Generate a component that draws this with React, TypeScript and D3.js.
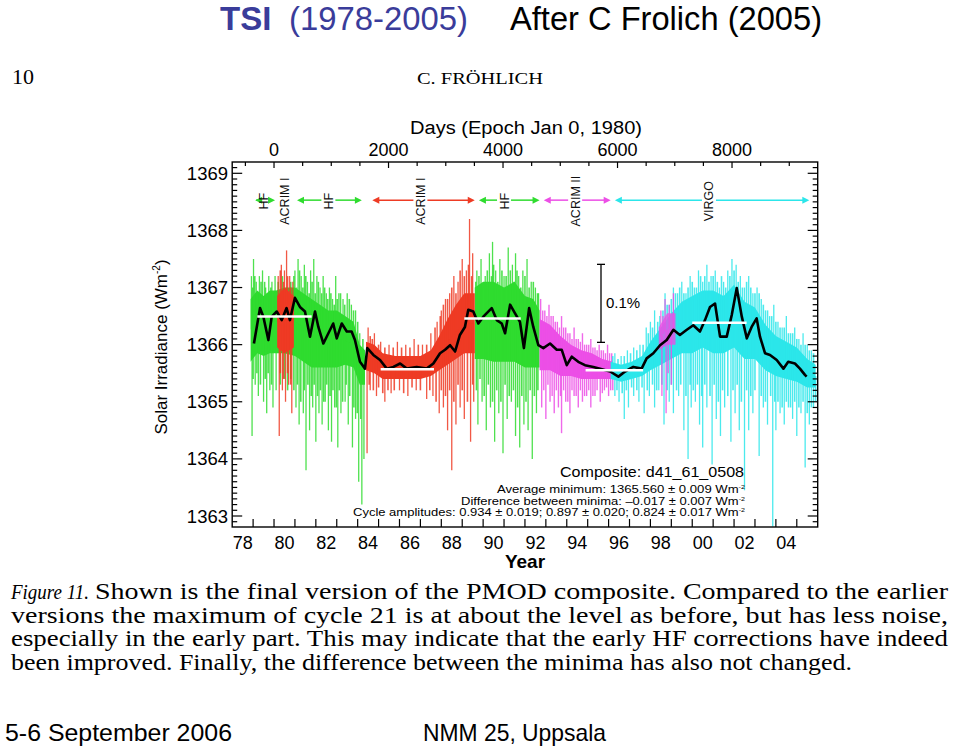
import React from "react";
import * as d3 from "d3";

type Band = [number, number, number][];
type Spike = [number, number];

const W = 959;
const H = 747;

const GREEN = "#2fdc2f";
const RED = "#ee3b24";
const MAGENTA = "#ec4fe6";
const CYAN = "#2ce6ea";

// ---- instrument daily-data envelopes: [year, low, high] ----
const hfBandA: Band = [
  [1978.88, 1365.7, 1366.8], [1979.2, 1365.85, 1366.95], [1979.5, 1365.8, 1366.85],
  [1979.8, 1365.85, 1366.95], [1980.1, 1365.85, 1366.95], [1980.5, 1365.85, 1367.0],
  [1981.0, 1365.8, 1367.0], [1981.4, 1365.7, 1366.9], [1981.8, 1365.6, 1366.8],
  [1982.2, 1365.6, 1366.7], [1982.6, 1365.6, 1366.6], [1983.0, 1365.6, 1366.6],
  [1983.4, 1365.65, 1366.5], [1983.8, 1365.6, 1366.4], [1984.1, 1365.3, 1366.0],
  [1984.35, 1365.3, 1365.9],
];
const hfBandB: Band = [
  [1989.6, 1365.75, 1367.0], [1990.0, 1365.75, 1367.1], [1990.5, 1365.7, 1367.1],
  [1991.0, 1365.7, 1367.0], [1991.5, 1365.7, 1367.1], [1992.0, 1365.6, 1366.85],
  [1992.4, 1365.6, 1366.8], [1992.7, 1365.6, 1366.6],
];
const acrimIBandA: Band = [
  [1980.15, 1365.95, 1366.85], [1980.5, 1365.85, 1367.0], [1980.95, 1365.95, 1366.85],
];
const acrimIBandB: Band = [
  [1984.4, 1365.55, 1366.05], [1984.8, 1365.5, 1366.0], [1985.2, 1365.4, 1365.85],
  [1985.8, 1365.4, 1365.8], [1986.4, 1365.4, 1365.8], [1987.0, 1365.4, 1365.8],
  [1987.5, 1365.45, 1365.9], [1987.9, 1365.55, 1366.15], [1988.3, 1365.65, 1366.45],
  [1988.7, 1365.75, 1366.7], [1989.1, 1365.85, 1366.9], [1989.6, 1365.85, 1366.9],
];
const acrimIIBandA: Band = [
  [1992.7, 1365.55, 1366.45], [1993.2, 1365.55, 1366.35], [1993.7, 1365.45, 1366.15],
  [1994.2, 1365.45, 1366.0], [1994.7, 1365.4, 1365.9], [1995.2, 1365.4, 1365.85],
  [1995.7, 1365.4, 1365.75], [1996.2, 1365.4, 1365.7],
];
const acrimIIBandB: Band = [
  [1998.4, 1365.9, 1366.3], [1998.8, 1366.0, 1366.55], [1999.2, 1366.0, 1366.55],
];
const virgoBand: Band = [
  [1996.1, 1365.4, 1365.7], [1996.6, 1365.35, 1365.65], [1997.1, 1365.4, 1365.7],
  [1997.6, 1365.45, 1365.8], [1998.0, 1365.55, 1366.05], [1998.5, 1365.65, 1366.3],
  [1999.0, 1365.75, 1366.55], [1999.5, 1365.85, 1366.75], [2000.0, 1365.85, 1366.85],
  [2000.5, 1365.95, 1366.95], [2001.0, 1365.85, 1366.95], [2001.5, 1365.85, 1366.85],
  [2002.0, 1365.95, 1367.05], [2002.5, 1365.75, 1366.75], [2003.0, 1365.75, 1366.65],
  [2003.5, 1365.55, 1366.35], [2004.0, 1365.45, 1366.15], [2004.5, 1365.4, 1366.05],
  [2005.0, 1365.35, 1365.95], [2005.5, 1365.25, 1365.75], [2005.9, 1365.25, 1365.65],
];

// ---- individual excursions: [year, value] ----
const hfSpikes: Spike[] = [
  [1978.92, 1367.2], [1979.02, 1367.5], [1979.15, 1367.1], [1979.3, 1367.2], [1979.45, 1367.3],
  [1979.6, 1367.0], [1979.75, 1367.2], [1979.9, 1367.1], [1980.05, 1367.2],
  [1978.95, 1364.4], [1979.1, 1365.3], [1979.25, 1365.1], [1979.5, 1365.0], [1979.65, 1364.8],
  [1979.8, 1365.2], [1979.95, 1364.9], [1980.1, 1365.2], [1981.0, 1367.3], [1981.15, 1367.5],
  [1981.3, 1367.2], [1981.45, 1367.4], [1981.6, 1367.1], [1981.75, 1367.3], [1981.9, 1367.5],
  [1982.05, 1367.2], [1982.2, 1367.0], [1982.35, 1367.2], [1982.5, 1366.9], [1982.65, 1367.0],
  [1982.8, 1366.8], [1982.95, 1367.2], [1983.1, 1366.9], [1983.3, 1366.8], [1983.5, 1366.9],
  [1983.7, 1366.7], [1983.9, 1366.6], [1984.1, 1366.2], [1981.05, 1364.9], [1981.2, 1364.6],
  [1981.4, 1364.8], [1981.53, 1363.8], [1981.7, 1364.5], [1981.85, 1364.9], [1982.0, 1364.3],
  [1982.15, 1364.8], [1982.3, 1364.6], [1982.45, 1365.0], [1982.6, 1364.5], [1982.75, 1364.3],
  [1982.9, 1364.9], [1983.05, 1364.2], [1983.2, 1364.8], [1983.4, 1365.0], [1983.55, 1364.6],
  [1983.75, 1364.2], [1983.9, 1364.7], [1984.05, 1363.6], [1984.2, 1363.2], [1984.3, 1364.0],
  [1989.7, 1367.3], [1989.9, 1367.5], [1990.1, 1367.2], [1990.3, 1367.6], [1990.45, 1367.8],
  [1990.6, 1367.3], [1990.8, 1367.5], [1991.0, 1367.2], [1991.2, 1367.7], [1991.4, 1367.4],
  [1991.55, 1367.6], [1991.7, 1367.2], [1991.9, 1367.3], [1992.1, 1367.5], [1992.3, 1367.1],
  [1992.5, 1367.0], [1992.65, 1366.9], [1989.75, 1364.6], [1989.95, 1365.0], [1990.15, 1364.5],
  [1990.35, 1364.9], [1990.55, 1364.3], [1990.75, 1364.8], [1990.95, 1364.1], [1991.15, 1364.7],
  [1991.35, 1365.0], [1991.55, 1364.4], [1991.75, 1364.2], [1991.95, 1364.6], [1992.15, 1364.5],
  [1992.35, 1364.0], [1992.55, 1364.8],
];
const hfSpikesFine: Spike[] = [
  [1978.98, 1367.0], [1979.08, 1367.2], [1979.2, 1366.9], [1979.38, 1367.1], [1979.55, 1367.1],
  [1979.68, 1366.9], [1979.85, 1367.0], [1980.0, 1366.9], [1980.2, 1367.1], [1980.4, 1367.2],
  [1980.6, 1367.0], [1980.8, 1367.1], [1980.95, 1367.2], [1981.08, 1367.0], [1981.22, 1367.3],
  [1981.38, 1367.0], [1981.52, 1367.2], [1981.68, 1366.9], [1981.82, 1367.1], [1981.97, 1366.9],
  [1982.12, 1367.1], [1982.28, 1366.9], [1982.42, 1367.0], [1982.57, 1366.8], [1982.72, 1366.9],
  [1982.88, 1366.7], [1983.02, 1366.8], [1983.18, 1366.9], [1983.38, 1366.7], [1983.6, 1366.8],
  [1983.8, 1366.6], [1984.0, 1366.4], [1984.25, 1366.1],
  [1979.0, 1365.4], [1979.18, 1365.5], [1979.35, 1365.3], [1979.58, 1365.4], [1979.72, 1365.5],
  [1979.88, 1365.3], [1980.3, 1365.3], [1980.5, 1365.4], [1980.65, 1365.2], [1980.8, 1365.4],
  [1980.95, 1365.2], [1981.12, 1365.3], [1981.28, 1365.0], [1981.45, 1365.2], [1981.62, 1365.3],
  [1981.78, 1365.1], [1981.92, 1365.3], [1982.08, 1365.1], [1982.22, 1365.2], [1982.38, 1365.0],
  [1982.52, 1365.3], [1982.68, 1365.1], [1982.82, 1365.2], [1982.98, 1364.9], [1983.12, 1365.2],
  [1983.28, 1365.0], [1983.45, 1365.3], [1983.62, 1365.1], [1983.82, 1364.9], [1983.98, 1364.8],
  [1984.15, 1364.7],
  [1989.65, 1367.1], [1989.8, 1367.2], [1990.0, 1367.0], [1990.2, 1367.3], [1990.4, 1367.2],
  [1990.5, 1367.4], [1990.7, 1367.1], [1990.9, 1367.3], [1991.1, 1367.2], [1991.3, 1367.3],
  [1991.48, 1367.1], [1991.62, 1367.3], [1991.8, 1367.0], [1992.0, 1367.2], [1992.2, 1367.0],
  [1992.4, 1367.1], [1992.6, 1366.9],
  [1989.68, 1365.2], [1989.85, 1365.4], [1990.05, 1365.1], [1990.25, 1365.3], [1990.45, 1365.0],
  [1990.65, 1365.2], [1990.85, 1365.0], [1991.05, 1365.3], [1991.25, 1365.1], [1991.45, 1365.2],
  [1991.65, 1364.9], [1991.85, 1365.1], [1992.05, 1365.0], [1992.25, 1365.2], [1992.45, 1365.1],
  [1992.62, 1365.2],
];
const acrimISpikes: Spike[] = [
  [1980.2, 1367.2], [1980.35, 1367.4], [1980.5, 1367.3], [1980.6, 1367.65], [1980.75, 1367.2],
  [1980.9, 1367.1], [1980.25, 1364.4], [1980.4, 1365.2], [1980.55, 1365.0], [1980.7, 1365.3],
  [1980.85, 1364.8], [1984.5, 1366.3], [1984.8, 1366.2], [1985.1, 1366.05], [1985.5, 1366.0],
  [1985.9, 1366.05], [1986.3, 1366.0], [1986.7, 1366.1], [1987.1, 1366.0], [1987.5, 1366.2],
  [1987.8, 1366.4], [1988.0, 1366.6], [1988.2, 1366.8], [1988.4, 1366.9], [1988.6, 1367.2],
  [1988.8, 1367.1], [1989.0, 1367.5], [1989.2, 1367.3], [1989.35, 1368.2], [1989.5, 1367.6],
  [1984.45, 1364.1], [1984.6, 1365.2], [1984.9, 1365.1], [1985.3, 1365.0], [1985.6, 1365.15],
  [1986.0, 1365.2], [1986.4, 1365.1], [1986.8, 1365.2], [1987.3, 1365.05], [1987.6, 1365.1],
  [1987.9, 1364.8], [1988.1, 1364.9], [1988.3, 1364.5], [1988.5, 1363.8], [1988.7, 1364.6],
  [1988.9, 1364.9], [1989.1, 1364.7], [1989.4, 1364.3], [1989.55, 1365.0],
];
const acrimISpikesFine: Spike[] = [
  [1980.3, 1367.3], [1980.45, 1367.1], [1980.65, 1367.2], [1980.8, 1367.0],
  [1980.3, 1365.5], [1980.45, 1365.4], [1980.65, 1365.5], [1980.8, 1365.3],
  [1984.6, 1366.15], [1984.7, 1366.1], [1985.0, 1366.0], [1985.3, 1365.95], [1985.7, 1365.95],
  [1986.1, 1365.95], [1986.5, 1365.95], [1986.9, 1366.0], [1987.3, 1366.0], [1987.7, 1366.3],
  [1987.95, 1366.5], [1988.1, 1366.7], [1988.3, 1366.8], [1988.5, 1367.0], [1988.7, 1366.9],
  [1988.9, 1367.3], [1989.1, 1367.2], [1989.3, 1367.4], [1989.45, 1367.2],
  [1984.55, 1365.3], [1984.75, 1365.2], [1985.0, 1365.25], [1985.2, 1365.15], [1985.45, 1365.2],
  [1985.75, 1365.2], [1986.2, 1365.15], [1986.6, 1365.25], [1987.0, 1365.2], [1987.45, 1365.2],
  [1987.75, 1365.0], [1988.0, 1365.2], [1988.2, 1365.1], [1988.4, 1365.2], [1988.6, 1365.0],
  [1988.8, 1365.3], [1989.0, 1365.2], [1989.25, 1365.0], [1989.5, 1365.3],
];
const acrimIISpikes: Spike[] = [
  [1992.75, 1366.8], [1992.95, 1366.6], [1993.15, 1366.7], [1993.35, 1366.5], [1993.55, 1366.4],
  [1993.75, 1366.5], [1993.95, 1366.3], [1994.15, 1366.2], [1994.35, 1366.3], [1994.55, 1366.1],
  [1994.75, 1366.2], [1994.95, 1366.0], [1995.15, 1366.1], [1995.35, 1365.95], [1995.55, 1366.0],
  [1995.75, 1365.9], [1995.95, 1366.0], [1996.15, 1365.85], [1992.8, 1364.9], [1993.0, 1364.7],
  [1993.2, 1365.0], [1993.4, 1364.8], [1993.6, 1364.9], [1993.75, 1364.45], [1993.95, 1365.0],
  [1994.15, 1364.8], [1994.35, 1365.1], [1994.55, 1364.9], [1994.75, 1365.0], [1994.95, 1365.1],
  [1995.15, 1364.9], [1995.35, 1365.1], [1995.6, 1365.0], [1995.8, 1365.2], [1996.0, 1365.1],
  [1996.2, 1365.2],
  [1992.85, 1366.6], [1993.05, 1366.5], [1993.25, 1366.5], [1993.45, 1366.4], [1993.65, 1366.3],
  [1993.85, 1366.3], [1994.05, 1366.2], [1994.25, 1366.1], [1994.45, 1366.1], [1994.65, 1366.05],
  [1994.85, 1366.0], [1995.05, 1366.0], [1995.25, 1365.95], [1995.45, 1365.9], [1995.65, 1365.9],
  [1995.85, 1365.85], [1996.05, 1365.85],
  [1992.9, 1365.2], [1993.1, 1365.3], [1993.3, 1365.1], [1993.5, 1365.2], [1993.7, 1365.1],
  [1993.85, 1365.2], [1994.05, 1365.0], [1994.25, 1365.2], [1994.45, 1365.1], [1994.65, 1365.2],
  [1994.85, 1365.1], [1995.05, 1365.2], [1995.25, 1365.1], [1995.45, 1365.2], [1995.7, 1365.15],
  [1995.9, 1365.25], [1996.1, 1365.2],
];
const acrimIISpikesLate: Spike[] = [
  [1998.5, 1366.6], [1998.7, 1366.8], [1998.9, 1366.7], [1999.1, 1366.9], [1998.6, 1366.5],
  [1998.55, 1365.1], [1998.75, 1364.8], [1999.0, 1365.3], [1998.85, 1365.5],
];
const virgoSpikes: Spike[] = [
  [1996.3, 1365.85], [1996.6, 1365.8], [1996.9, 1365.9], [1997.2, 1365.95], [1997.5, 1366.0],
  [1997.8, 1366.3], [1998.0, 1366.4], [1998.2, 1366.6], [1998.45, 1366.5], [1998.7, 1366.9],
  [1998.9, 1366.7], [1999.1, 1367.0], [1999.3, 1366.9], [1999.5, 1367.1], [1999.7, 1366.9],
  [1999.9, 1367.2], [2000.1, 1367.0], [2000.3, 1367.3], [2000.5, 1367.1], [2000.7, 1367.4],
  [2000.9, 1367.2], [2001.1, 1367.3], [2001.3, 1367.0], [2001.5, 1367.1], [2001.7, 1367.3],
  [2001.9, 1367.5], [2002.1, 1367.4], [2002.3, 1367.2], [2002.5, 1367.0], [2002.7, 1367.2],
  [2002.9, 1366.9], [2003.1, 1367.0], [2003.3, 1366.8], [2003.5, 1366.6], [2003.7, 1366.5],
  [2003.9, 1366.7], [2004.1, 1366.4], [2004.3, 1366.3], [2004.5, 1366.5], [2004.7, 1366.2],
  [2004.9, 1366.3], [2005.1, 1366.1], [2005.3, 1366.2], [2005.5, 1366.0], [2005.7, 1365.9],
  [1996.3, 1365.1], [1996.5, 1365.0], [1996.75, 1364.7], [1996.95, 1364.9], [1997.2, 1365.1],
  [1997.45, 1365.0], [1997.7, 1364.8], [1997.95, 1365.1], [1998.2, 1364.9], [1998.4, 1365.2],
  [1998.65, 1364.6], [1998.9, 1365.0], [1999.1, 1364.8], [1999.35, 1365.1], [1999.6, 1364.5],
  [1999.8, 1364.0], [1999.95, 1364.9], [2000.15, 1365.0], [2000.35, 1364.6], [2000.5, 1364.2],
  [2000.7, 1364.9], [2000.95, 1363.9], [2001.15, 1364.7], [2001.35, 1364.4], [2001.55, 1364.9],
  [2001.85, 1364.3], [2002.05, 1364.8], [2002.25, 1364.5], [2002.5, 1363.45], [2002.7, 1364.5],
  [2002.9, 1364.8], [2003.2, 1364.05], [2003.4, 1364.9], [2003.6, 1364.6], [2003.85, 1362.8],
  [2004.0, 1364.5], [2004.2, 1364.8], [2004.4, 1364.6], [2004.6, 1364.9], [2004.8, 1364.7],
  [2005.0, 1364.4], [2005.2, 1364.8], [2005.4, 1363.85], [2005.6, 1364.6], [2005.8, 1364.9],
];
const virgoSpikesFine: Spike[] = [
  [1996.2, 1365.8], [1996.45, 1365.75], [1996.75, 1365.8], [1997.05, 1365.85], [1997.35, 1365.9],
  [1997.65, 1366.0], [1997.9, 1366.2], [1998.1, 1366.3], [1998.35, 1366.4], [1998.6, 1366.6],
  [1998.8, 1366.7], [1999.0, 1366.8], [1999.2, 1366.9], [1999.4, 1367.0], [1999.6, 1366.9],
  [1999.8, 1367.0], [2000.0, 1367.1], [2000.2, 1367.0], [2000.4, 1367.2], [2000.6, 1367.2],
  [2000.8, 1367.1], [2001.0, 1367.2], [2001.2, 1367.1], [2001.4, 1367.2], [2001.6, 1367.0],
  [2001.8, 1367.2], [2002.0, 1367.3], [2002.2, 1367.1], [2002.4, 1367.0], [2002.6, 1367.1],
  [2002.8, 1367.0], [2003.0, 1366.9], [2003.2, 1366.9], [2003.4, 1366.7], [2003.6, 1366.6],
  [2003.8, 1366.5], [2004.0, 1366.4], [2004.2, 1366.3], [2004.4, 1366.3], [2004.6, 1366.2],
  [2004.8, 1366.2], [2005.0, 1366.1], [2005.2, 1366.0], [2005.4, 1366.0], [2005.6, 1365.9],
  [2005.8, 1365.85],
  [1996.4, 1365.2], [1996.65, 1365.15], [1996.85, 1365.2], [1997.1, 1365.25], [1997.35, 1365.2],
  [1997.6, 1365.25], [1997.85, 1365.2], [1998.1, 1365.3], [1998.3, 1365.2], [1998.55, 1365.3],
  [1998.8, 1365.2], [1999.0, 1365.3], [1999.25, 1365.2], [1999.45, 1365.3], [1999.7, 1365.1],
  [1999.9, 1365.3], [2000.05, 1365.2], [2000.25, 1365.3], [2000.45, 1365.1], [2000.6, 1365.3],
  [2000.85, 1365.1], [2001.05, 1365.3], [2001.25, 1365.0], [2001.45, 1365.2], [2001.7, 1365.1],
  [2001.95, 1365.2], [2002.15, 1365.3], [2002.35, 1365.0], [2002.6, 1365.2], [2002.8, 1365.1],
  [2003.0, 1365.2], [2003.3, 1365.1], [2003.5, 1365.0], [2003.75, 1365.1], [2003.95, 1365.0],
  [2004.1, 1365.0], [2004.3, 1364.9], [2004.5, 1365.0], [2004.7, 1364.9], [2004.9, 1365.0],
  [2005.1, 1364.9], [2005.3, 1365.0], [2005.5, 1364.8], [2005.7, 1364.9], [2005.9, 1365.0],
];

// ---- smoothed composite (black) ----
const smoothed: Spike[] = [
  [1979.04, 1366.02], [1979.33, 1366.64], [1979.49, 1366.49], [1979.73, 1366.08], [1979.89, 1366.49],
  [1980.13, 1366.58], [1980.37, 1366.43], [1980.6, 1366.64], [1980.76, 1366.43], [1981.0, 1366.82],
  [1981.24, 1366.66], [1981.48, 1366.58], [1981.72, 1366.14], [1981.96, 1366.58], [1982.12, 1366.31],
  [1982.36, 1366.02], [1982.6, 1366.2], [1982.83, 1366.37], [1983.0, 1366.11], [1983.24, 1366.37],
  [1983.48, 1366.23], [1983.71, 1366.23], [1983.87, 1366.08], [1984.11, 1365.7], [1984.35, 1365.58],
  [1984.46, 1365.94], [1984.75, 1365.82], [1985.07, 1365.73], [1985.39, 1365.58], [1985.71, 1365.61],
  [1986.03, 1365.67], [1986.35, 1365.58], [1986.82, 1365.61], [1987.3, 1365.58], [1987.62, 1365.67],
  [1987.94, 1365.85], [1988.18, 1365.91], [1988.42, 1365.99], [1988.66, 1365.88], [1988.89, 1366.17],
  [1989.13, 1366.31], [1989.29, 1366.61], [1989.53, 1366.58], [1989.77, 1366.37], [1990.01, 1366.49],
  [1990.41, 1366.64], [1990.65, 1366.43], [1990.89, 1366.37], [1991.05, 1366.2], [1991.29, 1366.7],
  [1991.52, 1366.55], [1991.76, 1366.4], [1991.95, 1365.94], [1992.2, 1366.64], [1992.4, 1366.31],
  [1992.64, 1365.99], [1992.88, 1365.94], [1993.2, 1366.02], [1993.52, 1365.91], [1993.76, 1365.91],
  [1994.0, 1365.64], [1994.24, 1365.79], [1994.55, 1365.7], [1994.87, 1365.64], [1995.27, 1365.61],
  [1995.59, 1365.58], [1996.07, 1365.53], [1996.47, 1365.44], [1996.79, 1365.53], [1997.18, 1365.61],
  [1997.58, 1365.58], [1997.82, 1365.76], [1998.14, 1365.85], [1998.46, 1365.99], [1998.78, 1366.08],
  [1999.1, 1366.26], [1999.41, 1366.17], [1999.74, 1366.26], [2000.05, 1366.34], [2000.37, 1366.23],
  [2000.61, 1366.43], [2000.85, 1366.66], [2001.09, 1366.72], [2001.33, 1366.14], [2001.65, 1366.14],
  [2001.89, 1366.52], [2002.13, 1366.99], [2002.37, 1366.49], [2002.61, 1366.11], [2002.84, 1366.31],
  [2003.08, 1366.46], [2003.24, 1366.14], [2003.48, 1365.85], [2003.72, 1365.82], [2004.04, 1365.73],
  [2004.36, 1365.58], [2004.59, 1365.7], [2004.91, 1365.67], [2005.15, 1365.58], [2005.39, 1365.47],
  [2005.47, 1365.44],
];

// ---- cycle minimum / maximum levels (white): [start, end, level] ----
const cycleLevels: Band = [
  [1979.2, 1981.8, 1366.494], [1985.1, 1987.65, 1365.569], [1989.1, 1991.8, 1366.457],
  [1994.9, 1997.65, 1365.552], [2000.0, 2002.6, 1366.384],
];

// ---- instrument periods (top arrows) ----
const instruments = [
  { label: "HF", color: GREEN, from: 1979.1, to: 1980.05, at: 1979.48 },
  { label: "ACRIM I", color: GREEN, from: NaN, to: NaN, at: 1980.5 },
  { label: "HF", color: GREEN, from: 1981.1, to: 1984.2, at: 1982.6 },
  { label: "ACRIM I", color: RED, from: 1984.7, to: 1989.6, at: 1987.0 },
  { label: "HF", color: GREEN, from: 1989.8, to: 1992.7, at: 1991.0 },
  { label: "ACRIM II", color: MAGENTA, from: 1992.9, to: 1996.1, at: 1994.4 },
  { label: "VIRGO", color: CYAN, from: 1996.3, to: 2005.6, at: 2000.8 },
];

const yearLabels = ["78", "80", "82", "84", "86", "88", "90", "92", "94", "96", "98", "00", "02", "04"];
const yearLabelStart = 1978;
const dayLabels = [0, 2000, 4000, 6000, 8000];
const yMajor = [1363, 1364, 1365, 1366, 1367, 1368, 1369];

const scaleBarBase = 1366.04;
const scaleBarSize = 1.366; // 0.1% of TSI

const captionLines = [
  "versions the maximum of cycle 21 is at about the level as before, but has less noise,",
  "especially in the early part. This may indicate that the early HF corrections have indeed",
  "been improved. Finally, the difference between the minima has also not changed.",
];

export default function App() {
  const left = 232.2, right = 817.7, top = 162, bottom = 527;
  const x = d3.scaleLinear().domain([1978, 2006]).range([left, right]);
  const y = d3.scaleLinear().domain([1369, 1363]).range([173.3, 516]);
  const dayToYear = (d: number) => 1980 + d / 365.25;

  const area = d3
    .area<[number, number, number]>()
    .x((d) => x(d[0]))
    .y0((d) => y(d[1]))
    .y1((d) => y(d[2]));
  const line = d3
    .line<[number, number]>()
    .x((d) => x(d[0]))
    .y((d) => y(d[1]));

  const spikeLines = (bands: Band[], spikes: Spike[], color: string, key: string, w = 1.3) =>
    spikes.map((s, i) => {
      const b = bands.find((bb) => s[0] >= bb[0][0] - 0.05 && s[0] <= bb[bb.length - 1][0] + 0.05) || bands[0];
      const yrs = b.map((d) => d[0]);
      const lo = d3.scaleLinear().domain(yrs).range(b.map((d) => d[1])).clamp(true);
      const hi = d3.scaleLinear().domain(yrs).range(b.map((d) => d[2])).clamp(true);
      const mid = (lo(s[0]) + hi(s[0])) / 2;
      const v = Math.max(s[1], y.invert(bottom - 0.5));
      return (
        <line
          key={key + i}
          x1={x(s[0])}
          x2={x(s[0])}
          y1={y(mid)}
          y2={y(v)}
          stroke={color}
          strokeWidth={w}
          strokeOpacity={0.85}
        />
      );
    });

  const yMinor: number[] = [];
  for (let v = 13629; v <= 13691; v++) {
    const val = v / 10;
    if (y(val) >= top && y(val) <= bottom && v % 10 !== 0) yMinor.push(val);
  }
  const yearTicks = d3.range(1979, 2006);
  const dayTicks = d3.range(-500, 9501, 500).filter((d) => x(dayToYear(d)) > left && x(dayToYear(d)) < right);

  const sans = "'Liberation Sans', Arial, Helvetica, sans-serif";
  const serif = "'Liberation Serif', 'Times New Roman', serif";
  const bandY = y(1368.53);

  return (
    <svg
      width={W}
      height={H}
      viewBox={`0 0 ${W} ${H}`}
      style={{ position: "absolute", left: 0, top: 0, background: "#fff" }}
      fontFamily={sans}
    >
      <rect x={0} y={0} width={W} height={H} fill="#fff" />
      {/* slide title */}
      <text x={220} y={30} fontSize={33} fill="#3a3c9a" fontWeight="bold">TSI</text>
      <text x={289} y={30} fontSize={33} fill="#3a3c9a" textLength={179} lengthAdjust="spacingAndGlyphs">(1978-2005)</text>
      <text x={510} y={30} fontSize={33} fill="#000" textLength={312} lengthAdjust="spacingAndGlyphs">After C Frolich (2005)</text>

      {/* page header */}
      <text x={12} y={84} fontSize={22} fontFamily={serif}>10</text>
      <text x={417} y={84} fontSize={17} fontFamily={serif} textLength={126} lengthAdjust="spacingAndGlyphs">C. FRÖHLICH</text>

      {/* data */}
      <g>
        {[hfBandA, hfBandB].map((b, i) => (
          <path key={"hf" + i} d={area(b) || ""} fill={GREEN} />
        ))}
        {spikeLines([hfBandA, hfBandB], hfSpikesFine, GREEN, "hff", 1.6)}
        {spikeLines([hfBandA, hfBandB], hfSpikes, GREEN, "hfs")}
        {[acrimIBandA, acrimIBandB].map((b, i) => (
          <path key={"a1" + i} d={area(b) || ""} fill={RED} />
        ))}
        {spikeLines([acrimIBandA, acrimIBandB], acrimISpikesFine, RED, "a1f", 1.6)}
        {spikeLines([acrimIBandA, acrimIBandB], acrimISpikes, RED, "a1s")}
        <path d={area(acrimIIBandA) || ""} fill={MAGENTA} />
        {spikeLines([acrimIIBandA], acrimIISpikes, MAGENTA, "a2s", 1.4)}
        <path d={area(virgoBand) || ""} fill={CYAN} />
        {spikeLines([virgoBand], virgoSpikesFine, CYAN, "vf", 1.6)}
        {spikeLines([virgoBand], virgoSpikes, CYAN, "vs")}
        <path d={area(acrimIIBandB) || ""} fill={MAGENTA} fillOpacity={0.8} />
        {spikeLines([acrimIIBandB], acrimIISpikesLate, MAGENTA, "a2b")}
        <path d={line(smoothed) || ""} fill="none" stroke="#000" strokeWidth={2.6} strokeLinejoin="round" />
        {cycleLevels.map((c, i) => (
          <line key={"cl" + i} x1={x(c[0])} x2={x(c[1])} y1={y(c[2])} y2={y(c[2])} stroke="#fff" strokeWidth={2.6} />
        ))}
      </g>

      {/* instrument arrows */}
      {instruments.map((ins, i) => {
        const cx = x(ins.at);
        const gap = 7;
        const parts: JSX.Element[] = [];
        if (!isNaN(ins.from)) {
          const x0 = x(ins.from);
          const x1 = x(ins.to);
          parts.push(<line key="l" x1={x0 + 4} x2={cx - gap} y1={bandY} y2={bandY} stroke={ins.color} strokeWidth={1.5} />);
          parts.push(<line key="r" x1={cx + gap} x2={x1 - 4} y1={bandY} y2={bandY} stroke={ins.color} strokeWidth={1.5} />);
          parts.push(<path key="al" d={`M${x0},${bandY}L${x0 + 7},${bandY - 3.5}L${x0 + 7},${bandY + 3.5}Z`} fill={ins.color} />);
          parts.push(<path key="ar" d={`M${x1},${bandY}L${x1 - 7},${bandY - 3.5}L${x1 - 7},${bandY + 3.5}Z`} fill={ins.color} />);
        }
        return (
          <g key={"ins" + i}>
            {parts}
            <text
              transform={`translate(${cx + 4.5},${bandY + 1}) rotate(-90)`}
              textAnchor="middle"
              fontSize={12.5}
              fill="#111"
            >
              {ins.label}
            </text>
          </g>
        );
      })}

      {/* scale bar */}
      <g stroke="#000" strokeWidth={1.3}>
        <line x1={601} x2={601} y1={y(scaleBarBase)} y2={y(scaleBarBase + scaleBarSize)} />
        <line x1={597} x2={605} y1={y(scaleBarBase)} y2={y(scaleBarBase)} />
        <line x1={597} x2={605} y1={y(scaleBarBase + scaleBarSize)} y2={y(scaleBarBase + scaleBarSize)} />
      </g>
      <text x={606} y={y(scaleBarBase + scaleBarSize / 2) + 5} fontSize={15}>0.1%</text>

      {/* frame + ticks */}
      <rect x={left} y={top} width={right - left} height={bottom - top} fill="none" stroke="#000" strokeWidth={1.4} />
      <g stroke="#000" strokeWidth={1.2}>
        {yMajor.map((v) => (
          <g key={"ym" + v}>
            <line x1={left} x2={left + 10} y1={y(v)} y2={y(v)} />
            <line x1={right} x2={right - 10} y1={y(v)} y2={y(v)} />
          </g>
        ))}
        {yMinor.map((v) => (
          <g key={"yn" + v}>
            <line x1={left} x2={left + 5} y1={y(v)} y2={y(v)} />
            <line x1={right} x2={right - 5} y1={y(v)} y2={y(v)} />
          </g>
        ))}
        {yearTicks.map((t) => (
          <line key={"yt" + t} x1={x(t)} x2={x(t)} y1={bottom} y2={bottom - 8} />
        ))}
        {dayTicks.map((d) => (
          <line key={"dt" + d} x1={x(dayToYear(d))} x2={x(dayToYear(d))} y1={top} y2={top + (d % 2000 === 0 ? 6 : 4)} />
        ))}
      </g>

      {/* axis labels */}
      {yMajor.map((v) => (
        <text key={"yl" + v} x={228} y={y(v) + 6.5} fontSize={18.5} textAnchor="end">{v}</text>
      ))}
      {yearLabels.map((l, i) => (
        <text key={"xl" + i} x={x(yearLabelStart + 2 * i + 0.5)} y={549} fontSize={18} textAnchor="middle">{l}</text>
      ))}
      <text x={525} y={568} fontSize={19} textAnchor="middle" fontWeight={600}>Year</text>
      {dayLabels.map((d) => (
        <text key={"dl" + d} x={x(dayToYear(d))} y={155.5} fontSize={18} textAnchor="middle">{d}</text>
      ))}
      <text x={410} y={134} fontSize={18} textLength={232} lengthAdjust="spacingAndGlyphs">Days (Epoch Jan 0, 1980)</text>
      <text transform="translate(167,347) rotate(-90)" fontSize={17} textAnchor="middle">
        Solar Irradiance (Wm<tspan fontSize={10} dy={-7}>-2</tspan><tspan dy={7}>)</tspan>
      </text>

      {/* annotation block */}
      <text x={560} y={477} fontSize={15} textLength={184} lengthAdjust="spacingAndGlyphs">Composite: d41_61_0508</text>
      <text x={497} y={493} fontSize={11} textLength={248} lengthAdjust="spacingAndGlyphs">
        Average minimum:  1365.560 ± 0.009 Wm<tspan fontSize={6} dy={-4}>-2</tspan>
      </text>
      <text x={461} y={504.5} fontSize={11} textLength={284} lengthAdjust="spacingAndGlyphs">
        Difference between minima: –0.017 ± 0.007 Wm<tspan fontSize={6} dy={-4}>-2</tspan>
      </text>
      <text x={353} y={516} fontSize={11} textLength={392} lengthAdjust="spacingAndGlyphs">
        Cycle amplitudes:  0.934 ± 0.019; 0.897 ± 0.020; 0.824 ± 0.017 Wm<tspan fontSize={6} dy={-4}>-2</tspan>
      </text>

      {/* caption */}
      <text x={11} y={599} fontSize={22} fontFamily={serif} fontStyle="italic" textLength={78} lengthAdjust="spacingAndGlyphs">Figure 11.</text>
      <text x={95} y={599} fontSize={22.5} fontFamily={serif} textLength={853} lengthAdjust="spacingAndGlyphs">
        Shown is the final version of the PMOD composite. Compared to the earlier
      </text>
      {captionLines.map((l, i) => (
        <text
          key={"cap" + i}
          x={11}
          y={622.5 + i * 23.5}
          fontSize={22.5}
          fontFamily={serif}
          textLength={i < 2 ? 937 : 841}
          lengthAdjust="spacingAndGlyphs"
        >
          {l}
        </text>
      ))}

      {/* footer */}
      <text x={5} y={741} fontSize={24} textLength={227} lengthAdjust="spacingAndGlyphs">5-6 September 2006</text>
      <text x={423} y={741} fontSize={24} textLength={183} lengthAdjust="spacingAndGlyphs">NMM 25, Uppsala</text>
    </svg>
  );
}
